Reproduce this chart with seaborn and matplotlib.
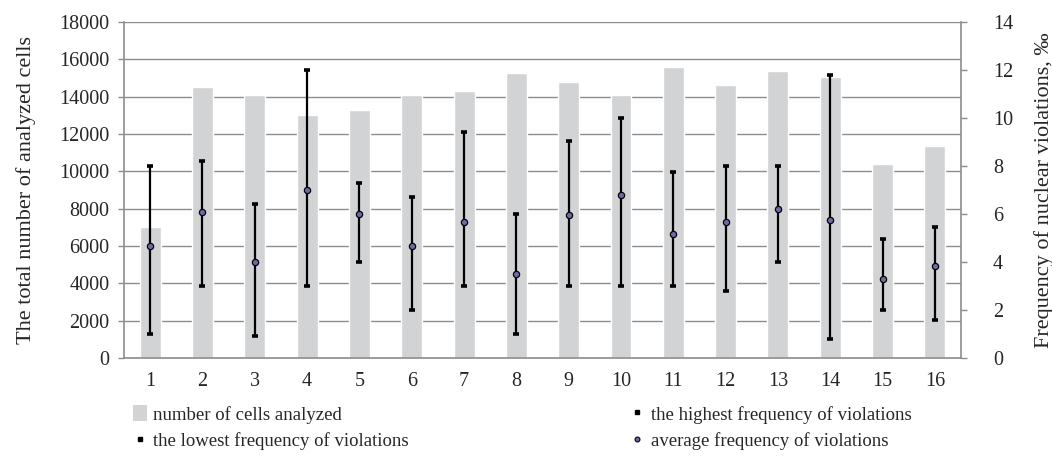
import numpy as np
import pandas as pd
import matplotlib
matplotlib.use("Agg")
import matplotlib.pyplot as plt
import seaborn as sns
from matplotlib.patches import Patch
from matplotlib.lines import Line2D

# Sample numbers (1..16)
samples = [str(i) for i in range(1, 17)]
# Total number of analysed cells per sample
cells = [7000, 14500, 14100, 13000, 13300, 14100, 14300, 15250,
         14800, 14100, 15600, 14600, 15350, 15050, 10400, 11350]
# Frequency of nuclear violations, per mille
freq_high = [8.0, 8.2, 6.4, 12.0, 7.3, 6.7, 9.4, 6.0,
             9.05, 10.0, 7.75, 8.0, 8.0, 11.8, 4.95, 5.45]
freq_low = [1.0, 3.0, 0.9, 3.0, 4.0, 2.0, 3.0, 1.0,
            3.0, 3.0, 3.0, 2.8, 4.0, 0.8, 2.0, 1.6]
freq_mean = [4.65, 6.1, 4.0, 7.0, 6.0, 4.65, 5.65, 3.5,
             5.95, 6.8, 5.15, 5.65, 6.2, 5.75, 3.3, 3.85]

df = pd.DataFrame({"sample": samples, "cells": cells,
                   "high": freq_high, "low": freq_low, "mean": freq_mean})

sns.set_style("white")
plt.rcParams["font.family"] = ["Liberation Serif", "DejaVu Serif"]
plt.rcParams["font.size"] = 14

grid_c = "#8c8c8c"
bar_c = "#d2d3d5"
tick_fs = 14.5
label_fs = 16

fig = plt.figure(figsize=(10.52, 4.61), dpi=100)
ax = fig.add_axes([0.1179, 0.2234, 0.7956, 0.7289])

sns.barplot(data=df, x="sample", y="cells", color=bar_c, width=0.4,
            saturation=1, ax=ax, zorder=2)
ax.set_ylim(0, 18000)
ax.set_yticks(np.arange(0, 18001, 2000))
ax.yaxis.grid(True, color=grid_c, lw=1.0, zorder=0)
ax.set_axisbelow(True)
ax.set_xlim(-0.5, len(samples) - 0.5)
ax.set_xlabel("")
ax.set_ylabel("The total number of analyzed cells", fontsize=label_fs,
              labelpad=17)

# category labels at centres, tick marks between categories
ax.tick_params(axis="x", which="major", length=0, pad=10, labelsize=tick_fs)
ax.set_xticks(np.arange(-0.5, len(samples), 1.0), minor=True)
ax.tick_params(axis="x", which="minor", length=5, width=1, color=grid_c)
ax.tick_params(axis="y", length=4.5, width=1, color=grid_c, pad=6,
               labelsize=tick_fs)

for side in ["left", "right", "bottom"]:
    ax.spines[side].set_color(grid_c)
    ax.spines[side].set_linewidth(1.2)
ax.spines["top"].set_visible(False)

ax2 = ax.twinx()
ax2.set_ylim(0, 14)
ax2.set_yticks(np.arange(0, 15, 2))
ax2.tick_params(axis="y", length=4, width=1, color=grid_c, pad=19,
                labelsize=tick_fs)
for side in ["left", "right", "bottom", "top"]:
    ax2.spines[side].set_visible(False)
ax2.set_ylabel("Frequency of nuclear violations, \u2030", fontsize=label_fs,
               labelpad=15)

xpos = np.arange(len(samples))
ax2.vlines(xpos, df["low"], df["high"], color="black", lw=1.6, zorder=3)
ax2.plot(xpos, df["high"], ls="none", marker="_", ms=4, mew=2.6,
         color="black", zorder=4)
ax2.plot(xpos, df["low"], ls="none", marker="_", ms=4, mew=2.6,
         color="black", zorder=4)
ax2.plot(xpos, df["mean"], ls="none", marker="o", ms=4.5, mfc="#7566a6",
         mec="black", mew=0.9, zorder=5)

handles = [
    Patch(facecolor=bar_c, edgecolor="none"),
    Line2D([], [], ls="none", marker="s", ms=3.2, color="black"),
    Line2D([], [], ls="none", marker="s", ms=3.2, color="black"),
    Line2D([], [], ls="none", marker="o", ms=3.5, mfc="#7566a6",
           mec="black", mew=0.8),
]
labels = ["number of cells analyzed", "the lowest frequency of violations",
          "the highest frequency of violations",
          "average frequency of violations"]
fig.legend(handles, labels, ncol=2, loc="lower left",
           bbox_to_anchor=(0.110, -0.012), frameon=False, fontsize=13.5,
           handlelength=0.75, handleheight=0.9, handletextpad=0.35,
           columnspacing=11.8, labelspacing=0.42)

fig.savefig("out.png", dpi=100)
